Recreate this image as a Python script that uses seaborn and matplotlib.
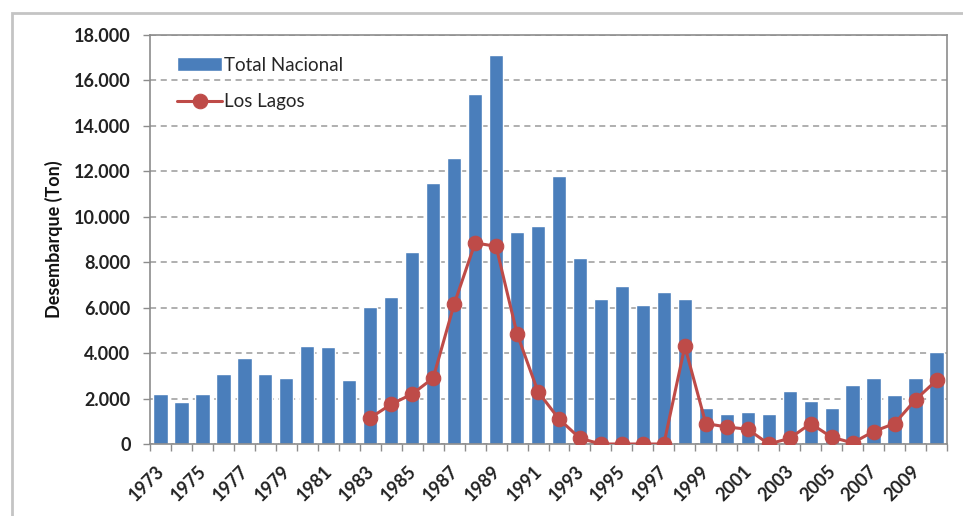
import numpy as np
import pandas as pd
import matplotlib
matplotlib.use("Agg")
import matplotlib.pyplot as plt
from matplotlib.patches import Rectangle
from matplotlib.ticker import FuncFormatter, FixedLocator
from matplotlib.transforms import ScaledTranslation
import seaborn as sns

# Landings by year (tonnes)
years = list(range(1973, 2011))
total_nacional = [2200, 1850, 2200, 3100, 3800, 3100, 2900, 4300, 4250, 2800,
                  6050, 6450, 8450, 11500, 12600, 15400, 17100, 9350, 9600, 11800,
                  8200, 6400, 6950, 6100, 6700, 6400, 1600, 1300, 1400, 1300,
                  2350, 1900, 1600, 2600, 2900, 2150, 2900, 4050]
years_lagos = list(range(1983, 2011))
los_lagos = [1150, 1750, 2200, 2900, 6150, 8850, 8700, 4850, 2300, 1100,
             250, 0, 0, 0, 0, 4300, 900, 750, 650, 0,
             250, 900, 300, 50, 550, 900, 1950, 2800]

ylabel_text = "Desembarque (Ton)"
bar_label = "Total Nacional"
line_label = "Los Lagos"

sns.set_theme(style="white")
plt.rcParams["font.family"] = ["Lato", "DejaVu Sans"]

BLUE = "#4A7EBB"
RED = "#BE4B48"
GRID = "#9A9A9A"
FRAME = "#8C8C8C"

fig = plt.figure(figsize=(9.63, 5.16), dpi=100)
W, H = 963, 516
ax = fig.add_axes([150 / W, 1 - 444 / H, (947 - 150) / W, (444 - 35) / H])

df_tot = pd.DataFrame({"year": years, "ton": total_nacional})
df_ll = pd.DataFrame({"year": years_lagos, "ton": los_lagos})

sns.barplot(data=df_tot, x="year", y="ton", native_scale=True, width=0.68,
            color=BLUE, saturation=1, ax=ax, label=bar_label, zorder=2)
sns.lineplot(data=df_ll, x="year", y="ton", color=RED, lw=2.2, marker="o",
             markersize=10.5, markeredgecolor=RED, ax=ax, label=line_label,
             zorder=3)

ax.set_xlim(1972.5, 2010.5)
ax.set_ylim(0, 18000)
ax.set_yticks(np.arange(0, 18001, 2000))
ax.yaxis.set_major_formatter(
    FuncFormatter(lambda v, p: f"{int(v):,}".replace(",", ".")))

label_years = years[::2]
ax.set_xticks(label_years)
ax.set_xticklabels([str(y) for y in label_years], rotation=45, ha="right",
                   va="center", rotation_mode="anchor")
ax.xaxis.set_minor_locator(FixedLocator(np.arange(1972.5, 2011, 1)))
ax.tick_params(axis="x", which="major", length=0, pad=17.5, labelsize=13,
               labelcolor="#222222")
ax.tick_params(axis="x", which="minor", length=5, width=1, color=FRAME,
               direction="out", bottom=True)
ax.tick_params(axis="y", which="major", length=5, width=1, color=FRAME,
               direction="out", left=True, labelsize=13, labelcolor="#222222",
               pad=9)
shift = ScaledTranslation(1 / 100, 0, fig.dpi_scale_trans)
for lab in ax.get_xticklabels():
    lab.set_fontweight("bold")
    lab.set_transform(lab.get_transform() + shift)
for lab in ax.get_yticklabels():
    lab.set_fontweight("bold")

ax.yaxis.grid(True, linestyle=(0, (4, 3)), color=GRID, lw=1.1, zorder=0)
ax.set_axisbelow(True)
for side in ["left", "bottom", "top", "right"]:
    ax.spines[side].set_visible(True)
    ax.spines[side].set_color(FRAME)
    ax.spines[side].set_linewidth(1.2)

ax.set_xlabel("")
ax.set_ylabel(ylabel_text, fontsize=13, fontweight="bold", color="#111111",
              labelpad=8)

handles, labels = ax.get_legend_handles_labels()
order = [labels.index(bar_label), labels.index(line_label)]
ax.legend([handles[i] for i in order], [labels[i] for i in order],
          loc="upper left", bbox_to_anchor=(0.034, 0.947), frameon=False,
          fontsize=13.5, handlelength=2.4, handleheight=0.8,
          handletextpad=0.12, labelspacing=1.05, borderaxespad=0,
          borderpad=0)

# outer chart border
fig.add_artist(Rectangle((12 / W, -0.2), 1.2, (1 - 13 / H) + 0.2,
                         transform=fig.transFigure, fill=False,
                         edgecolor="#C4C4C4", lw=2))

fig.savefig("out.png", dpi=100)
